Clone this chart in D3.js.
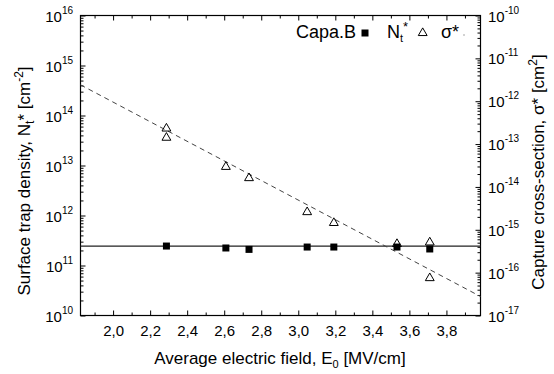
<!DOCTYPE html>
<html><head><meta charset="utf-8">
<script src="https://cdn.jsdelivr.net/npm/d3@7"></script>
<style>
body{margin:0;background:#fff}
svg{display:block}
text{font-family:"Liberation Sans",Arial,sans-serif;fill:#000}
</style>
</head><body>
<svg id="chart" width="554" height="374"></svg>
<script>
// Capacitor B: surface trap density vs. average electric field
const capaE = [2.288, 2.609, 2.734, 3.048, 3.192, 3.533, 3.710];
const capaN = [2.45e11, 2.24e11, 2.1e11, 2.34e11, 2.34e11, 2.34e11, 2.14e11];

// N_t* points (open triangles)
const trapE = [2.288, 2.288, 2.609, 2.734, 3.048, 3.192, 3.533, 3.710, 3.710];
const trapN = [5.5e13, 3.6e13, 9.4e12, 5.6e12, 1.17e12, 7.1e11, 2.7e11, 2.9e11, 5.6e10];

// fitted lines
const levelN = 2.45e11;                 // constant level through Capa.B
const fitE = [1.824, 3.984];            // exponential fit endpoints
const fitN = [4.1e14, 2.4e10];

// ticks
const xMajor = [2.0, 2.2, 2.4, 2.6, 2.8, 3.0, 3.2, 3.4, 3.6, 3.8];
const xMinor = [1.9, 2.1, 2.3, 2.5, 2.7, 2.9, 3.1, 3.3, 3.5, 3.7, 3.9];
const leftExp = [10, 11, 12, 13, 14, 15, 16];
const rightExp = [-17, -16, -15, -14, -13, -12, -11, -10];

const svg = d3.select("#chart");
const m = {l: 80.5, t: 15.5, r: 480.5, b: 315.5};

const x = d3.scaleLinear().domain([1.824, 3.984]).range([m.l, m.r]);
const yL = d3.scaleLog().domain([1e10, 1e16]).range([m.b, m.t]);
const yR = d3.scaleLog().domain([1e-17, 1e-10]).range([m.b, m.t]);

function minors(lo, hi) {
  const a = [];
  for (let e = lo; e < hi; e++) for (let k = 2; k < 10; k++) a.push(+(k + "e" + e));
  return a;
}
const pow = e => +("1e" + e);

function axis(gen, tr, vals, size, fmt) {
  const g = svg.append("g").attr("transform", tr)
    .call(gen.tickValues(vals).tickSize(size).tickSizeOuter(0).tickPadding(10).tickFormat(fmt || ""));
  g.select(".domain").remove();
  g.selectAll(".tick line").attr("stroke", "#000");
  return g;
}

// bottom
const gx = axis(d3.axisBottom(x), `translate(0,${m.b})`, xMajor, -5, d => d.toFixed(1).replace(".", ","));
gx.selectAll("text").attr("font-size", 15).attr("fill", "#000");
axis(d3.axisBottom(x), `translate(0,${m.b})`, xMinor, -3);
// top
axis(d3.axisTop(x), `translate(0,${m.t})`, xMajor, -5);
axis(d3.axisTop(x), `translate(0,${m.t})`, xMinor, -3);
// left
axis(d3.axisLeft(yL), `translate(${m.l},0)`, leftExp.map(pow), -5);
axis(d3.axisLeft(yL), `translate(${m.l},0)`, minors(10, 16), -3);
// right
axis(d3.axisRight(yR), `translate(${m.r},0)`, rightExp.map(pow), -5);
axis(d3.axisRight(yR), `translate(${m.r},0)`, minors(-17, -10), -3);

// frame
svg.append("rect").attr("x", m.l).attr("y", m.t).attr("width", m.r - m.l).attr("height", m.b - m.t)
  .attr("fill", "none").attr("stroke", "#000").attr("stroke-width", 1.2);

// power-of-ten labels
function powLabel(px, py, e, anchor) {
  const t = svg.append("text").attr("x", px).attr("y", py).attr("text-anchor", anchor).attr("font-size", 15);
  t.append("tspan").text("10");
  t.append("tspan").attr("dy", -8).attr("font-size", 10).text(e);
}
leftExp.forEach(e => powLabel(73, yL(pow(e)) + 6, e, "end"));
rightExp.forEach(e => powLabel(488, yR(pow(e)) + 6, e, "start"));

// axis titles
const xt = svg.append("text").attr("x", 280).attr("y", 364).attr("text-anchor", "middle").attr("font-size", 17);
xt.append("tspan").text("Average electric field, E");
xt.append("tspan").attr("dy", 4).attr("font-size", 11).text("0");
xt.append("tspan").attr("dy", -4).text(" [MV/cm]");

const lt = svg.append("text").attr("transform", "translate(30,181) rotate(-90)").attr("text-anchor", "middle").attr("font-size", 17);
lt.append("tspan").text("Surface trap density, N");
lt.append("tspan").attr("dy", 4).attr("font-size", 12).text("t");
lt.append("tspan").attr("dy", -4).text("* [cm");
lt.append("tspan").attr("dy", -7).attr("font-size", 12).text("-2");
lt.append("tspan").attr("dy", 7).text("]");

const rt = svg.append("text").attr("transform", "translate(544,172) rotate(-90)").attr("text-anchor", "middle").attr("font-size", 17);
rt.append("tspan").text("Capture cross-section, σ* [cm");
rt.append("tspan").attr("dy", -7).attr("font-size", 12).text("2");
rt.append("tspan").attr("dy", 7).text("]");

// fitted lines
svg.append("line").attr("x1", m.l).attr("x2", m.r).attr("y1", yL(levelN)).attr("y2", yL(levelN))
  .attr("stroke", "#222").attr("stroke-width", 1.2);
svg.append("path").datum(fitE.map((e, i) => [e, fitN[i]]))
  .attr("d", d3.line().x(d => x(d[0])).y(d => yL(d[1])))
  .attr("fill", "none").attr("stroke", "#444").attr("stroke-width", 1).attr("stroke-dasharray", "5,4");

// markers
const sq = 7;
svg.append("g").selectAll("rect").data(capaE).join("rect")
  .attr("x", (d, i) => x(d) - sq / 2).attr("y", (d, i) => yL(capaN[i]) - sq / 2)
  .attr("width", sq).attr("height", sq).attr("fill", "#000");

const tri = d3.symbol().type(d3.symbolTriangle).size(34);
svg.append("g").selectAll("path").data(trapE).join("path")
  .attr("transform", (d, i) => `translate(${x(d)},${yL(trapN[i])})`)
  .attr("d", tri).attr("fill", "none").attr("stroke", "#000").attr("stroke-width", 1);

// legend
const lg = svg.append("g");
lg.append("text").attr("x", 296).attr("y", 38).attr("font-size", 18).text("Capa.B");
lg.append("rect").attr("x", 365 - 3.5).attr("y", 33 - 3.5).attr("width", 7).attr("height", 7).attr("fill", "#000");
const ln = lg.append("text").attr("x", 387).attr("y", 38).attr("font-size", 18);
ln.append("tspan").text("N");
ln.append("tspan").attr("dy", 4).attr("font-size", 11).text("t");
ln.append("tspan").attr("dy", -11).attr("font-size", 13).text("*");
lg.append("path").attr("transform", "translate(422.7,33)").attr("d", tri).attr("fill", "none").attr("stroke", "#000");
lg.append("text").attr("x", 441).attr("y", 38).attr("font-size", 18).text("σ*");
lg.append("circle").attr("cx", 464).attr("cy", 35).attr("r", 0.8).attr("fill", "#999");
</script>
</body></html>
